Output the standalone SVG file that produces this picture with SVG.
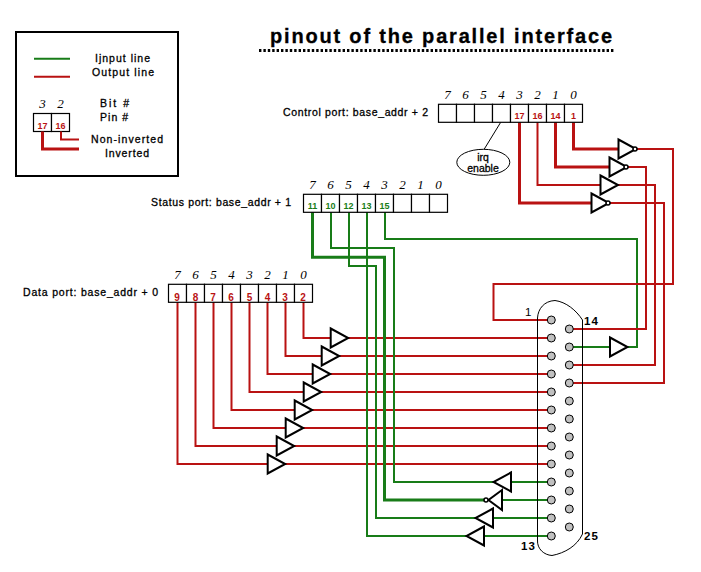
<svg xmlns="http://www.w3.org/2000/svg" width="701" height="572" viewBox="0 0 701 572">
<style>
text{font-family:"Liberation Sans",Arial,sans-serif;fill:#000}
.t{font-size:10.5px;stroke:#000;stroke-width:.3}
.title{font-size:20px;font-weight:700;stroke:#000;stroke-width:.3}
.bit{font-family:"Liberation Serif","Times New Roman",serif;font-size:13px;font-style:italic;text-anchor:middle}
.pr,.pg,.pr10{font-size:9px;font-weight:700;text-anchor:middle}
.pr,.pr10{fill:#b91212}.pg{fill:#187c18}
.pr10{font-size:10px}
.big{font-size:11.5px;font-weight:700}
.big1{font-size:11.5px}
.cell{fill:#fff;stroke:#000;stroke-width:1.2}
.r,.g,.R,.G{fill:none;stroke-linejoin:miter}
.r{stroke:#b91212;stroke-width:2}
.R{stroke:#b91212;stroke-width:3}
.g{stroke:#187c18;stroke-width:2}
.G{stroke:#187c18;stroke-width:3}
.tri{fill:#fff;stroke:#000;stroke-width:2}
.bub{fill:#fff;stroke:#000;stroke-width:1.5}
.pin{fill:#c0c0c0;stroke:#000;stroke-width:1}
</style>
<defs>
<g id="cells">
<rect class="cell" x="0" y="0" width="18" height="18"/><rect class="cell" x="18" y="0" width="18" height="18"/><rect class="cell" x="36" y="0" width="18" height="18"/><rect class="cell" x="54" y="0" width="18" height="18"/><rect class="cell" x="72" y="0" width="18" height="18"/><rect class="cell" x="90" y="0" width="18" height="18"/><rect class="cell" x="108" y="0" width="18" height="18"/><rect class="cell" x="126" y="0" width="18" height="18"/>
</g>
<polygon id="br" class="tri" points="0,-9.500 17.500,0 0,9.500"/>
<polygon id="bl" class="tri" points="0,-9.500 -17.500,0 0,9.500"/>
</defs>

<g id="title">
<text class="title" x="270" y="43" textLength="342" lengthAdjust="spacing">pinout of the parallel interface</text>
<line x1="259" y1="50.500" x2="615" y2="50.500" stroke="#000" stroke-width="3" stroke-dasharray="2.400 2"/>
</g>

<g id="legend">
<rect x="16" y="32" width="162" height="144" fill="#fff" stroke="#000" stroke-width="2"/>
<line class="g" x1="34" y1="58.700" x2="70" y2="58.700"/>
<line class="r" x1="34" y1="76.700" x2="70" y2="76.700"/>
<text class="t" x="95" y="62" textLength="55" lengthAdjust="spacing">Ijnput line</text>
<text class="t" x="92" y="76" textLength="62" lengthAdjust="spacing">Output line</text>
<text class="t" x="100" y="107" textLength="29" lengthAdjust="spacing">Bit  #</text>
<text class="t" x="100" y="121" textLength="28" lengthAdjust="spacing">Pin #</text>
<text class="t" x="91" y="143" textLength="72" lengthAdjust="spacing">Non-inverted</text>
<text class="t" x="105" y="157" textLength="44" lengthAdjust="spacing">Inverted</text>
<text class="bit" x="42.500" y="108">3</text><text class="bit" x="60.500" y="108">2</text>
<rect class="cell" x="33.500" y="113.500" width="18" height="18"/><rect class="cell" x="51.500" y="113.500" width="18" height="18"/>
<text class="pr" x="42.500" y="128.500">17</text><text class="pr" x="60.500" y="128.500">16</text>
<path class="R" d="M42.500 131.500V149H79"/>
<path class="r" d="M61 131.500V139.500H79"/>
</g>

<g id="connectors">
<path class="g" d="M385 212V239H637V347H628"/>
<path class="g" d="M610 347H569"/>
<path class="R" d="M573.500 122V149H618"/>
<path class="R" d="M555.500 122V167H609"/>
<path class="r" d="M537.500 122V185H600"/>
<path class="R" d="M519.500 122V203H591"/>
<path class="r" d="M637 149H673V284H493.500V320H551"/>
<path class="r" d="M628 167H646V329H569"/>
<path class="r" d="M618 185H655V365H569"/>
<path class="r" d="M610 203H664V383H569"/>
<path class="r" d="M303.500 302V338H551"/>
<path class="r" d="M285.500 302V356H551"/>
<path class="r" d="M267.500 302V374H551"/>
<path class="r" d="M249.500 302V392H551"/>
<path class="r" d="M231.500 302V410H551"/>
<path class="r" d="M213.500 302V428H551"/>
<path class="r" d="M195.500 302V446H551"/>
<path class="r" d="M177.500 302V464H551"/>
<path class="G" d="M312.500 212V257.300H384.500V500H485"/>
<path class="g" d="M331 212V248H394V482H551"/>
<path class="g" d="M349 212V266H376V518H551"/>
<path class="g" d="M367 212V536H551"/>
<path class="g" d="M502 500H551"/>
<line x1="500.700" y1="122.300" x2="484.300" y2="149" stroke="#000"/>
</g>

<g id="control-port">
<text class="t" x="283" y="116" textLength="145" lengthAdjust="spacing">Control port: base_addr + 2</text>
<text class="bit" x="447.500" y="99">7</text><text class="bit" x="465.500" y="99">6</text><text class="bit" x="483.500" y="99">5</text><text class="bit" x="501.500" y="99">4</text><text class="bit" x="519.500" y="99">3</text><text class="bit" x="537.500" y="99">2</text><text class="bit" x="555.500" y="99">1</text><text class="bit" x="573.500" y="99">0</text>
<use href="#cells" x="438.500" y="104.300"/>
<text class="pr" x="519.500" y="118.700">17</text><text class="pr" x="537.500" y="118.700">16</text><text class="pr" x="555.500" y="118.700">14</text><text class="pr" x="573.500" y="118.700">1</text>
</g>

<g id="irq-enable">
<ellipse cx="483.300" cy="162.300" rx="26.500" ry="13" fill="#fff" stroke="#000"/>
<text class="t" x="483" y="160.700" text-anchor="middle">irq</text>
<text class="t" x="483" y="171.700" text-anchor="middle">enable</text>
</g>

<g id="status-port">
<text class="t" x="151" y="206" textLength="140" lengthAdjust="spacing">Status port: base_addr + 1</text>
<text class="bit" x="312.500" y="189.300">7</text><text class="bit" x="330.500" y="189.300">6</text><text class="bit" x="348.500" y="189.300">5</text><text class="bit" x="366.500" y="189.300">4</text><text class="bit" x="384.500" y="189.300">3</text><text class="bit" x="402.500" y="189.300">2</text><text class="bit" x="420.500" y="189.300">1</text><text class="bit" x="438.500" y="189.300">0</text>
<use href="#cells" x="303.500" y="194.300"/>
<text class="pg" x="312.500" y="209.300">11</text><text class="pg" x="330.500" y="209.300">10</text><text class="pg" x="348.500" y="209.300">12</text><text class="pg" x="366.500" y="209.300">13</text><text class="pg" x="384.500" y="209.300">15</text>
</g>

<g id="data-port">
<text class="t" x="23" y="296" textLength="135" lengthAdjust="spacing">Data port: base_addr + 0</text>
<text class="bit" x="177.500" y="279.300">7</text><text class="bit" x="195.500" y="279.300">6</text><text class="bit" x="213.500" y="279.300">5</text><text class="bit" x="231.500" y="279.300">4</text><text class="bit" x="249.500" y="279.300">3</text><text class="bit" x="267.500" y="279.300">2</text><text class="bit" x="285.500" y="279.300">1</text><text class="bit" x="303.500" y="279.300">0</text>
<use href="#cells" x="168.500" y="284.300"/>
<text class="pr10" x="177" y="300.500">9</text><text class="pr10" x="195.500" y="300.500">8</text><text class="pr10" x="213" y="300.500">7</text><text class="pr10" x="231" y="300.500">6</text><text class="pr10" x="249.500" y="300.500">5</text><text class="pr10" x="267.500" y="300.500">4</text><text class="pr10" x="285" y="300.500">3</text><text class="pr10" x="303" y="300.500">2</text>
</g>

<g id="control-drivers">
<use href="#br" x="618.500" y="149"/><circle class="bub" cx="635" cy="149" r="2"/>
<use href="#br" x="609.500" y="167"/><circle class="bub" cx="626" cy="167" r="2"/>
<use href="#br" x="600.500" y="185"/>
<use href="#br" x="591.500" y="203"/><circle class="bub" cx="608" cy="203" r="2"/>
</g>
<g id="status-drivers">
<use href="#br" x="610" y="347"/>
<use href="#bl" x="511" y="482"/>
<polygon class="tri" points="502,490 488.500,500 502,510"/><circle class="bub" cx="486" cy="500" r="2"/>
<use href="#bl" x="493" y="518"/>
<use href="#bl" x="484" y="536"/>
</g>
<g id="data-drivers">
<use href="#br" x="330.700" y="338"/><use href="#br" x="321.700" y="356"/><use href="#br" x="312.700" y="374"/><use href="#br" x="303.700" y="392"/><use href="#br" x="294.700" y="410"/><use href="#br" x="285.700" y="428"/><use href="#br" x="276.700" y="446"/><use href="#br" x="267.700" y="464"/>
</g>

<g id="connector-db25">
<path d="M537.500 540V318C538 309 544 301 555 300.500C566 302 576 310 582.500 320V534C577 546 565 553 552 555.500C544 555 537 549 537.500 540" fill="none" stroke="#000" stroke-width="1"/>
<circle class="pin" cx="551.300" cy="320" r="4"/><circle class="pin" cx="551.300" cy="338" r="4"/><circle class="pin" cx="551.300" cy="356" r="4"/><circle class="pin" cx="551.300" cy="374" r="4"/><circle class="pin" cx="551.300" cy="392" r="4"/><circle class="pin" cx="551.300" cy="410" r="4"/><circle class="pin" cx="551.300" cy="428" r="4"/><circle class="pin" cx="551.300" cy="446" r="4"/><circle class="pin" cx="551.300" cy="464" r="4"/><circle class="pin" cx="551.300" cy="482" r="4"/><circle class="pin" cx="551.300" cy="500" r="4"/><circle class="pin" cx="551.300" cy="518" r="4"/><circle class="pin" cx="551.300" cy="536" r="4"/>
<circle class="pin" cx="569.300" cy="329" r="4"/><circle class="pin" cx="569.300" cy="347" r="4"/><circle class="pin" cx="569.300" cy="365" r="4"/><circle class="pin" cx="569.300" cy="383" r="4"/><circle class="pin" cx="569.300" cy="401" r="4"/><circle class="pin" cx="569.300" cy="419" r="4"/><circle class="pin" cx="569.300" cy="437" r="4"/><circle class="pin" cx="569.300" cy="455" r="4"/><circle class="pin" cx="569.300" cy="473" r="4"/><circle class="pin" cx="569.300" cy="491" r="4"/><circle class="pin" cx="569.300" cy="509" r="4"/><circle class="pin" cx="569.300" cy="527" r="4"/>
<text class="big1" x="525" y="316">1</text>
<text class="big" x="584" y="324.500" textLength="14" lengthAdjust="spacing">14</text>
<text class="big" x="521" y="550" textLength="14" lengthAdjust="spacing">13</text>
<text class="big" x="584" y="540" textLength="14" lengthAdjust="spacing">25</text>
</g>
</svg>
